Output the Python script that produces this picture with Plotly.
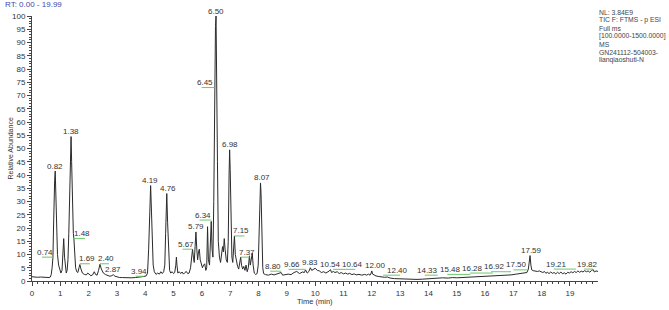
import plotly.graph_objects as go

# ---- chromatogram trace (retention time in min, relative abundance %) ----
rt = [0.00, 0.05, 0.10, 0.15, 0.20, 0.30, 0.40, 0.50, 0.60, 0.65, 0.68, 0.71, 0.74, 0.76, 0.78, 0.80, 0.82,
      0.84, 0.87, 0.90, 0.94, 0.98, 1.02, 1.06, 1.09, 1.12, 1.15, 1.18, 1.21, 1.24, 1.27, 1.30, 1.33, 1.36,
      1.38, 1.40, 1.43, 1.46, 1.48, 1.51, 1.54, 1.58, 1.62, 1.66, 1.69, 1.73, 1.78, 1.85, 1.92, 1.97, 2.02,
      2.08, 2.14, 2.20, 2.25, 2.30, 2.35, 2.40, 2.45, 2.52, 2.60, 2.68, 2.75, 2.82, 2.87, 2.93, 3.00, 3.10,
      3.20, 3.35, 3.50, 3.65, 3.80, 3.94, 4.03, 4.08, 4.12, 4.16, 4.19, 4.22, 4.25, 4.28, 4.32, 4.38, 4.44,
      4.50, 4.55, 4.60, 4.65, 4.69, 4.72, 4.76, 4.79, 4.82, 4.86, 4.90, 4.95, 5.00, 5.04, 5.08, 5.10, 5.12,
      5.15, 5.20, 5.25, 5.30, 5.35, 5.40, 5.45, 5.50, 5.55, 5.60, 5.64, 5.67, 5.70, 5.73, 5.76, 5.79, 5.82,
      5.85, 5.88, 5.91, 5.94, 5.98, 6.02, 6.06, 6.10, 6.14, 6.17, 6.20, 6.23, 6.27, 6.30, 6.33, 6.36, 6.39,
      6.42, 6.45, 6.48, 6.50, 6.52, 6.55, 6.58, 6.62, 6.66, 6.70, 6.73, 6.76, 6.79, 6.82, 6.86, 6.90, 6.93,
      6.96, 6.98, 7.00, 7.03, 7.06, 7.09, 7.12, 7.15, 7.18, 7.22, 7.26, 7.30, 7.34, 7.37, 7.40, 7.44, 7.48,
      7.52, 7.56, 7.60, 7.64, 7.68, 7.71, 7.75, 7.78, 7.81, 7.85, 7.90, 7.95, 7.99, 8.02, 8.05, 8.07, 8.09,
      8.12, 8.15, 8.18, 8.25, 8.35, 8.45, 8.55, 8.65, 8.75, 8.80, 8.85, 8.95, 9.05, 9.15, 9.25, 9.35, 9.45,
      9.55, 9.62, 9.66, 9.72, 9.78, 9.83, 9.88, 9.95, 10.00, 10.08, 10.15, 10.22, 10.30, 10.38, 10.45, 10.50,
      10.54, 10.58, 10.64, 10.70, 10.78, 10.85, 10.92, 11.00, 11.08, 11.15, 11.22, 11.30, 11.38, 11.45, 11.55,
      11.65, 11.75, 11.82, 11.88, 11.94, 11.98, 12.00, 12.03, 12.08, 12.15, 12.25, 12.35, 12.45, 12.55, 12.65,
      12.80, 13.00, 13.20, 13.40, 13.60, 13.80, 14.00, 14.20, 14.33, 14.50, 14.70, 14.85, 15.00, 15.20, 15.48,
      15.70, 15.90, 16.10, 16.28, 16.50, 16.70, 16.92, 17.10, 17.25, 17.40, 17.48, 17.53, 17.56, 17.59, 17.62,
      17.65, 17.70, 17.78, 17.85, 17.92, 17.98, 18.04, 18.10, 18.15, 18.20, 18.26, 18.32, 18.38, 18.44, 18.50,
      18.56, 18.62, 18.68, 18.74, 18.80, 18.86, 18.92, 18.98, 19.04, 19.10, 19.16, 19.22, 19.28, 19.34, 19.40,
      19.46, 19.52, 19.58, 19.64, 19.70, 19.76, 19.82, 19.86, 19.92, 19.99]
abundance = [1.6, 1.5, 1.6, 1.5, 1.4, 1.5, 1.4, 1.3, 1.3, 1.5, 2.5, 5, 9, 20, 36, 38, 41.5,
             30, 17, 10, 6, 4, 3, 4, 9, 16, 9, 4, 3, 4, 8, 18, 35, 48,
             54.5, 45, 28, 18, 16, 9, 5, 3.5, 3.2, 5, 6.2, 4.5, 3, 2.5, 2.3, 3, 2.4,
             2, 2.3, 3.5, 2.4, 2.2, 4, 6.3, 4.5, 3, 2.4, 2, 1.8, 2, 2.4, 1.8, 1.5, 1.3,
             1.3, 1.2, 1.2, 1.3, 1.4, 1.7, 1.9, 3, 12, 28, 36, 26, 12, 6, 3.5, 2.5, 3,
             2.6, 3.5, 2.8, 3.5, 6, 18, 33, 22, 10, 4, 3, 3.5, 2.8, 3.2, 6, 9, 6,
             3, 3.5, 2.8, 3.4, 2.6, 3.2, 3.6, 2.8, 3, 5, 9, 12, 9, 7, 13, 18.5, 12,
             8, 11, 12, 8, 6, 5, 6, 6.5, 4, 5, 20.5, 8, 6, 14, 22.5, 12, 9,
             30, 73, 96, 100, 85, 45, 15, 9, 7, 10, 13, 11, 16, 12, 8, 7, 15,
             40, 49.5, 42, 20, 9, 7, 13, 17, 10, 7, 5.5, 4.5, 6.5, 9, 6, 4.5, 5.5,
             4, 6, 3.5, 5, 9.5, 6, 8, 10.5, 6, 3, 2.5, 2.8, 6, 15, 30, 37, 33,
             15, 5, 2.8, 2.4, 2.2, 2.6, 2.3, 2.6, 2.8, 3.2, 2.2, 2.3, 2.6, 2.4, 3.2, 3.6, 2.8,
             3.4, 3.2, 4.2, 3, 3.6, 5, 4, 4.6, 4.8, 4, 3.8, 3.2, 3.5, 3.0, 3.4, 3.8,
             4.3, 3.2, 3.6, 3.2, 3.5, 2.8, 3.2, 2.7, 3, 2.6, 2.9, 2.4, 2.7, 2.3, 2.5,
             2.2, 2.5, 2.2, 2.6, 2.2, 3, 3.8, 2.6, 2.2, 1.9, 1.7, 1.5, 1.4, 1.5, 1.1,
             0.9, 0.8, 0.7, 0.6, 0.6, 0.7, 0.8, 1.0, 1.2, 1.2, 1.1, 1.3, 1.2, 1.3, 1.4,
             1.5, 1.6, 1.8, 1.9, 2.0, 2.2, 2.3, 2.6, 2.8, 3.0, 3.2, 4.5, 7, 9.6, 6,
             4.2, 3.9, 3.8, 3.6, 3.8, 3.5, 3.2, 3.6, 2.9, 3.3, 2.8, 3.4, 2.9, 3.2, 2.7,
             3.3, 2.8, 3.4, 2.7, 3.1, 2.6, 3.3, 3.0, 3.5, 3.1, 3.6, 3.2, 3.8, 3.3, 3.7,
             3.4, 3.9, 3.5, 3.8, 3.3, 4.0, 4.3, 3.4, 3.8, 3.6]

# ---- peak labels ----
label_rt = [0.74, 0.82, 1.38, 1.48, 1.69, 2.40, 2.87, 3.94, 4.19, 4.76, 5.67, 5.79, 6.34, 6.45, 6.50,
            6.98, 7.15, 7.37, 8.07, 8.80, 9.66, 9.83, 10.54, 10.64, 12.00, 12.40, 14.33, 15.48, 16.28,
            16.92, 17.50, 17.59, 19.21, 19.82]
label_level = [9, 41.5, 54.5, 16, 6.5, 6.5, 2.5, 1.8, 36, 33, 12, 18.5, 23, 73, 100,
               49.5, 17, 9, 37, 3.7, 4.4, 5, 4.5, 4.4, 3.8, 2.2, 2.2, 2.5, 3,
               3.5, 4.2, 9.6, 4.5, 4.5]
# label style: text offset (px) from the peak; green leader line when True
label_dx = [-8, 0, 0, 8, 7, 6, 0, -5, -1, 1, -7, 0, -9, -10, 0,
            0, 7, 6, 1, -8, -14, 0, 0, 19, 4, 14, -10, -20, -20,
            -17, -11, 1, -19, -6]
label_green = [True, False, False, True, True, True, False, True, False, False, True, False, True, True, False,
               False, True, True, False, True, True, False, False, True, False, True, True, True, True,
               True, True, False, True, True]

info_lines = ["NL: 3.84E9", "TIC F: FTMS - p ESI", "Full ms", "[100.0000-1500.0000]", "MS",
              "GN241112-504003-", "lianqiaoshuti-N"]

FONT = "Liberation Sans, Arial, sans-serif"
GREEN = "#6cc86c"

fig = go.Figure()
fig.add_trace(go.Scatter(x=rt, y=abundance, mode="lines",
                         line=dict(color="#2a2a2a", width=1), hoverinfo="skip", showlegend=False))

for t, lv, dx, g in zip(label_rt, label_level, label_dx, label_green):
    fig.add_annotation(x=t, y=lv, xref="x", yref="y", text=f"{t:.2f}", showarrow=False,
                       xanchor="center", yanchor="middle", xshift=dx, yshift=5,
                       font=dict(family=FONT, size=8, color="#333"))
    if g:
        ext = dx + (3 if dx > 0 else -3)
        fig.add_shape(type="line", xref="x", yref="y", xsizemode="pixel", xanchor=t,
                      x0=0, x1=ext, y0=lv, y1=lv, line=dict(color=GREEN, width=1))

# header texts
fig.add_annotation(x=0, y=1, xref="paper", yref="paper", text="RT: 0.00 - 19.99", showarrow=False,
                   xanchor="left", yanchor="middle", xshift=-29, yshift=11.5,
                   font=dict(family=FONT, size=8, color="#3b48a8"))
for i, s in enumerate(info_lines):
    fig.add_annotation(x=1, y=1, xref="paper", yref="paper", text=s, showarrow=False,
                       xanchor="left", yanchor="middle", xshift=-1, yshift=4 - 8 * i,
                       font=dict(family=FONT, size=6.8, color="#444"))

fig.add_annotation(x=0, y=0.5, xref="paper", yref="paper", text="Relative Abundance", showarrow=False,
                   textangle=-90, xanchor="center", yanchor="middle", xshift=-22,
                   font=dict(family=FONT, size=7, color="#333"))
fig.add_annotation(x=0.5, y=0, xref="paper", yref="paper", text="Time (min)", showarrow=False,
                   xanchor="center", yanchor="middle", yshift=-20,
                   font=dict(family=FONT, size=7.5, color="#333"))

fig.update_layout(
    width=669, height=310,
    margin=dict(l=29, r=71, t=16, b=24),
    paper_bgcolor="white", plot_bgcolor="white",
    xaxis=dict(range=[0, 19.99], dtick=1, tick0=0, ticks="outside", ticklen=4, tickcolor="#444",
               showline=True, linecolor="#444", linewidth=1, showgrid=False, zeroline=False,
               tickfont=dict(family=FONT, size=8, color="#333"),
               minor=dict(dtick=0.2, ticks="outside", ticklen=2, tickcolor="#444")),
    yaxis=dict(range=[0, 100], dtick=5, tick0=0, ticks="outside", ticklen=4, tickcolor="#444",
               showline=True, linecolor="#444", linewidth=1, showgrid=False, zeroline=False,
               tickfont=dict(family=FONT, size=8, color="#333"),
               minor=dict(dtick=1, ticks="outside", ticklen=2, tickcolor="#444")),
)

fig.write_html("out.html")
